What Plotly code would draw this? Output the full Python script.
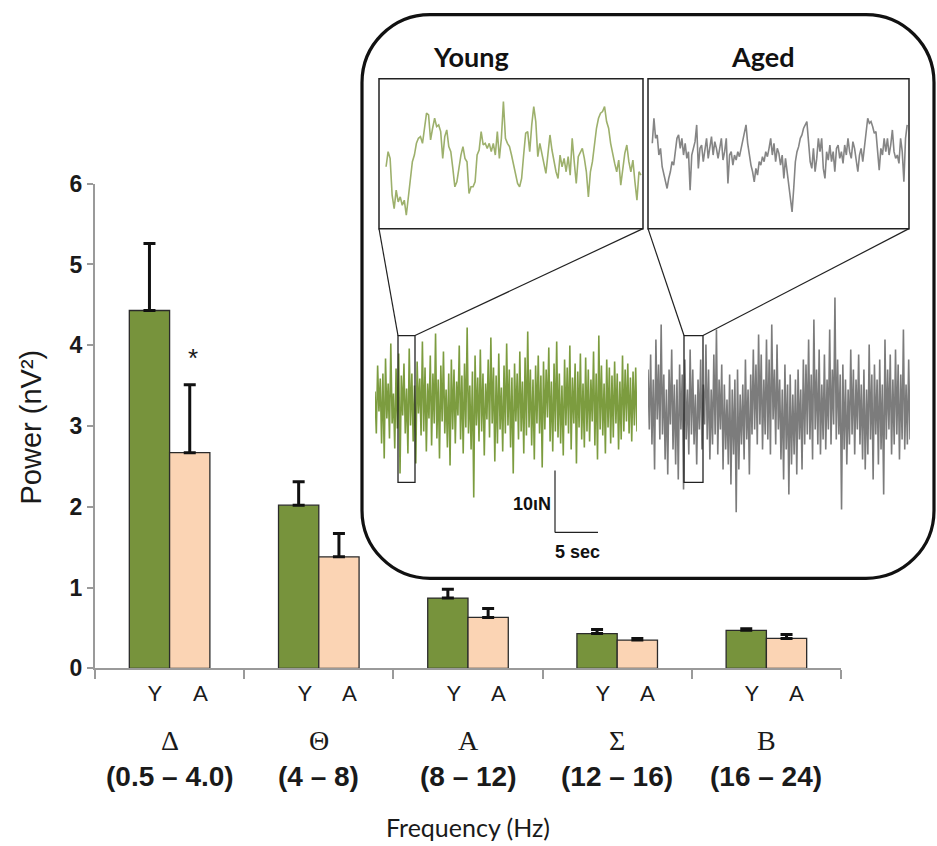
import plotly.graph_objects as go

W, H = 937, 846
# the photographed page maps figure rows as: shown_y = 12.2 + 0.970 * figure_y
Y_OFF, Y_SCALE = 12.2, 0.970

def px(x):
    return x / W

def py(y):
    return 1 - ((y - Y_OFF) / Y_SCALE) / H

# ---------------- data ----------------
bands = ["Δ", "Θ", "Α", "Σ", "Β"]
band_ranges = ["(0.5 – 4.0)", "(4 – 8)", "(8 – 12)", "(12 – 16)", "(16 – 24)"]
group_labels = ["Y", "A"]
young_power = [4.43, 2.02, 0.87, 0.43, 0.47]
young_sem = [0.83, 0.29, 0.11, 0.05, 0.02]
aged_power = [2.67, 1.38, 0.63, 0.35, 0.37]
aged_sem = [0.84, 0.29, 0.11, 0.02, 0.05]
y_ticks = [0, 1, 2, 3, 4, 5, 6]

# expanded (zoomed) EEG segments, arbitrary amplitude units
young_zoom = [195, 240, 220, 110, 70, 125, 90, 105, 80, 95, 50, 100, 160, 210, 230, 265, 280, 285, 265, 315,
              355, 350, 275, 310, 340, 315, 320, 300, 220, 285, 305, 255, 240, 190, 135, 150, 195, 230, 255, 220,
              210, 115, 135, 135, 150, 230, 245, 300, 260, 265, 250, 265, 240, 265, 230, 300, 220, 280, 390, 280,
              265, 255, 230, 200, 180, 145, 135, 160, 230, 295, 300, 240, 320, 375, 330, 225, 265, 230, 205, 175,
              230, 290, 245, 210, 180, 160, 230, 195, 220, 180, 225, 170, 280, 210, 145, 225, 240, 250, 220, 180,
              105, 180, 210, 260, 310, 340, 355, 360, 375, 330, 310, 265, 230, 205, 180, 215, 140, 180, 235, 260,
              210, 180, 215, 150, 95, 180, 170]
aged_zoom = [265, 340, 280, 290, 230, 250, 195, 170, 150, 130, 160, 180, 210, 200, 240, 280, 290, 250, 280, 230,
             265, 220, 240, 125, 230, 250, 270, 320, 190, 250, 260, 210, 240, 280, 220, 250, 285, 230, 270, 250,
             220, 250, 280, 215, 240, 280, 145, 230, 240, 200, 230, 215, 240, 225, 250, 270, 290, 320, 265, 230,
             200, 180, 150, 190, 170, 210, 200, 225, 210, 240, 225, 250, 280, 230, 265, 210, 250, 235, 200, 230,
             160, 220, 180, 150, 110, 60, 130, 210, 240, 255, 280, 290, 310, 320, 330, 270, 210, 190, 250, 180,
             220, 280, 240, 280, 190, 160, 240, 215, 260, 210, 240, 180, 250, 260, 220, 240, 205, 260, 230, 280,
             240, 220, 270, 250, 220, 180, 230, 250, 210, 260, 300, 340, 325, 330, 315, 295, 300, 240, 185, 250,
             230, 280, 240, 280, 230, 260, 305, 240, 220, 230, 205, 280, 240, 150, 280, 320]

# full-length EEG traces (offset from baseline, arbitrary units)
young_full = [12, -30, 38, -8, 25, -40, 30, -55, 45, -15, 20, -35, 60, -20, 10, -45, 35, -25, 50, -70,
              28, -12, 40, -30, 15, -50, 55, -22, 30, -38, 18, -60, 42, -10, 25, -32, 62, -28, 36, -48,
              20, -15, 48, -42, 30, -20, 70, -35, 24, -55, 38, -18, 52, -30, 14, -44, 30, -62, 44, -26,
              34, -40, 22, -12, 58, -36, 28, -50, 40, -24, 76, -30, 18, -46, 32, -94, 48, -22, 26, -38,
              54, -28, 30, -52, 20, -16, 44, -34, 66, -20, 36, -58, 28, -40, 50, -26, 16, -48, 38, -30,
              60, -22, 34, -44, 26, -70, 40, -18, 30, -36, 52, -28, 22, -50, 46, -32, 72, -24, 34, -42,
              24, -56, 38, -20, 48, -30, 28, -64, 42, -26, 34, -14, 56, -38, 22, -48, 40, -28, 62, -34,
              30, -40, 18, -52, 44, -22, 36, -30, 58, -46, 26, -20, 40, -60, 32, -24, 50, -36, 20, -44,
              46, -28, 34, -38, 24, -18, 52, -42, 30, -56, 68, -26, 38, -32, 20, -50, 44, -24, 36, -40,
              28, -34, 42, -20, 30, -46, 22, -36, 48, -28, 34, -18, 40, -30, 26, -38, 32, -22, 36, -28]
aged_full = [40, -20, 55, -35, 30, -60, 70, -10, 45, -30, 85, -25, 35, -50, 20, -65, 40, -15, 60, -40,
             25, -55, 30, -70, 45, -20, 35, -80, 50, -30, 20, -45, 60, -25, 40, -35, 15, -55, 30, -20,
             50, -40, 25, -15, 65, -30, 40, -50, 20, -35, 55, -25, 80, -45, 30, -20, 45, -60, 25, -40,
             10, -55, 35, -75, 20, -45, 30, -103, 40, -60, 15, -35, 25, -50, 50, -30, 20, -65, 35, -25,
             60, -20, 45, -35, 75, -15, 55, -40, 30, -25, 70, -30, 50, -45, 85, -10, 40, -35, 65, -20,
             30, -50, 20, -70, 45, -40, 25, -85, 35, -55, 15, -45, 30, -65, 40, -30, 20, -60, 50, -35,
             45, -25, 70, -30, 35, -50, 90, -20, 40, -35, 60, -45, 25, -30, 55, -40, 30, -20, 80, -35,
             40, -15, 112, -30, 50, -25, 35, -100, 45, -40, 30, -55, 20, -35, 60, -25, 40, -45, 30, -20,
             55, -35, 25, -50, 40, -60, 20, -45, 65, -30, 35, -70, 45, -25, 30, -55, 50, -40, 25, -85,
             70, -30, 40, -20, 55, -45, 30, -35, 60, -25, 45, -50, 35, -30, 80, -40, 25, -35, 50, -30]

GREEN = "#77933C"
PEACH = "#FBD4B4"
AXIS_GRAY = "#9a9a9a"

xs = list(range(len(bands)))

fig = go.Figure()
fig.add_trace(go.Bar(
    x=xs, y=young_power, name="Young",
    marker=dict(color=GREEN, line=dict(color="#2b2b2b", width=1.3)),
    error_y=dict(type="data", array=young_sem, arrayminus=[0] * 5, symmetric=False,
                 thickness=3, width=6, color="#111111"),
))
fig.add_trace(go.Bar(
    x=xs, y=aged_power, name="Aged",
    marker=dict(color=PEACH, line=dict(color="#2b2b2b", width=1.3)),
    error_y=dict(type="data", array=aged_sem, arrayminus=[0] * 5, symmetric=False,
                 thickness=3, width=6, color="#111111"),
))

# inset traces
fig.add_trace(go.Scatter(x=list(range(len(young_zoom))), y=young_zoom, mode="lines",
                         line=dict(color="#9db06c", width=1.6), xaxis="x2", yaxis="y2"))
fig.add_trace(go.Scatter(x=list(range(len(aged_zoom))), y=aged_zoom, mode="lines",
                         line=dict(color="#858585", width=1.6), xaxis="x3", yaxis="y3"))
fig.add_trace(go.Scatter(x=list(range(len(young_full))), y=young_full, mode="lines",
                         line=dict(color="#7c9c3f", width=1.6), xaxis="x4", yaxis="y4"))
fig.add_trace(go.Scatter(x=list(range(len(aged_full))), y=aged_full, mode="lines",
                         line=dict(color="#7c7c7c", width=1.6), xaxis="x5", yaxis="y5"))

hidden = dict(visible=False, fixedrange=True)

fig.update_layout(
    width=W, height=H,
    margin=dict(l=0, r=0, t=0, b=0),
    paper_bgcolor="white", plot_bgcolor="white",
    showlegend=False, hovermode=False,
    barmode="group", bargap=0.46, bargroupgap=0,
    xaxis=dict(domain=[px(95), px(841)], range=[-0.5, 4.5],
               tickmode="array", tickvals=[-0.5, 0.5, 1.5, 2.5, 3.5, 4.5],
               showticklabels=False, ticks="outside", ticklen=9, tickwidth=2, tickcolor=AXIS_GRAY,
               showline=True, linecolor=AXIS_GRAY, linewidth=2, showgrid=False, zeroline=False,
               fixedrange=True),
    yaxis=dict(domain=[py(668), py(183)], range=[0, 6],
               tickmode="array", tickvals=y_ticks, ticktext=[str(v) for v in y_ticks],
               ticks="outside", ticklen=6, tickwidth=2, tickcolor=AXIS_GRAY,
               tickfont=dict(family="Liberation Sans, Arial", size=23, color="#1a1a1a", weight="bold"),
               showline=True, linecolor=AXIS_GRAY, linewidth=2, showgrid=False, zeroline=False,
               fixedrange=True),
    xaxis2=dict(domain=[px(380), px(642)], range=[-3, len(young_zoom) - 0.5], anchor="y2", **hidden),
    yaxis2=dict(domain=[py(228), py(79)], range=[10, 455], anchor="x2", **hidden),
    xaxis3=dict(domain=[px(649), px(908)], range=[-2, len(aged_zoom) - 0.5], anchor="y3", **hidden),
    yaxis3=dict(domain=[py(228), py(79)], range=[10, 455], anchor="x3", **hidden),
    xaxis4=dict(domain=[px(375), px(637)], range=[0, len(young_full) - 1], anchor="y4", **hidden),
    yaxis4=dict(domain=[py(510), py(290)], range=[-107, 113], anchor="x4", **hidden),
    xaxis5=dict(domain=[px(648), px(910)], range=[0, len(aged_full) - 1], anchor="y5", **hidden),
    yaxis5=dict(domain=[py(512), py(292)], range=[-103, 117], anchor="x5", **hidden),
)

# ---------------- shapes ----------------
shapes = []

def rounded_path(x0, y0, x1, y1, r):
    k = 0.5523
    rx, ry = r / W, r / (H * Y_SCALE)
    X0, X1 = px(x0), px(x1)
    YT, YB = py(y0), py(y1)
    p = f"M {X0 + rx},{YT} L {X1 - rx},{YT} "
    p += f"C {X1 - rx * (1 - k)},{YT} {X1},{YT - ry * (1 - k)} {X1},{YT - ry} "
    p += f"L {X1},{YB + ry} "
    p += f"C {X1},{YB + ry * (1 - k)} {X1 - rx * (1 - k)},{YB} {X1 - rx},{YB} "
    p += f"L {X0 + rx},{YB} "
    p += f"C {X0 + rx * (1 - k)},{YB} {X0},{YB + ry * (1 - k)} {X0},{YB + ry} "
    p += f"L {X0},{YT - ry} "
    p += f"C {X0},{YT - ry * (1 - k)} {X0 + rx * (1 - k)},{YT} {X0 + rx},{YT} Z"
    return p

shapes.append(dict(type="path", xref="paper", yref="paper", path=rounded_path(362, 13.8, 934, 578, 68),
                   line=dict(color="#111111", width=3.2)))

def rect(x0, y0, x1, y1, w=1.5):
    return dict(type="rect", xref="paper", yref="paper", x0=px(x0), x1=px(x1), y0=py(y1), y1=py(y0),
                line=dict(color="#222222", width=w))

def seg(x0, y0, x1, y1, w=1.2):
    return dict(type="line", xref="paper", yref="paper", x0=px(x0), x1=px(x1), y0=py(y0), y1=py(y1),
                line=dict(color="#222222", width=w))

shapes += [rect(379, 78, 643, 228), rect(648, 78, 909, 228),
           rect(398, 335, 415, 482, 1.3), rect(684, 335, 703, 482, 1.3),
           seg(379, 228, 398, 335), seg(643, 228, 415, 335),
           seg(648, 228, 684, 335), seg(909, 228, 703, 335),
           seg(555, 470, 555, 532), seg(555, 532, 598, 532)]
fig.update_layout(shapes=shapes)

# ---------------- annotations ----------------
ann = []

def note(x, y, text, font, xref="paper", yref="paper", **kw):
    d = dict(x=x, y=y, xref=xref, yref=yref, text=text, showarrow=False, font=font,
             xanchor=kw.pop("xanchor", "center"), yanchor=kw.pop("yanchor", "middle"))
    d.update(kw)
    ann.append(d)

half = 0.135
for i in xs:
    note(i - half + 0.04, py(692), group_labels[0], dict(family="Lato, Open Sans", size=22, color="#1a1a1a"),
         xref="x")
    note(i + half + 0.07, py(692), group_labels[1], dict(family="Lato, Open Sans", size=22, color="#1a1a1a"),
         xref="x")
    note(i, py(740), bands[i], dict(family="Liberation Serif, DejaVu Serif", size=28, color="#1a1a1a"),
         xref="x")
    note(i, py(776), band_ranges[i],
         dict(family="Liberation Sans, Arial", size=28, color="#1a1a1a", weight="bold"), xref="x")

note(px(468), py(827), "Frequency (Hz)", dict(family="Lato, Open Sans", size=25, color="#1a1a1a"))
note(px(31), py(427), "Power (nV²)", dict(family="Liberation Sans, Arial", size=29, color="#1a1a1a"),
     textangle=-90)
note(half + 0.02, py(357), "*", dict(family="Liberation Sans, Arial", size=26, color="#1a1a1a"), xref="x")
note(px(471), py(56), "Young", dict(family="Lato, Open Sans", size=27, color="#111111", weight="bold"))
note(px(763), py(56), "Aged", dict(family="Lato, Open Sans", size=27, color="#111111", weight="bold"))
note(px(553), py(504), "10ιN", dict(family="Liberation Sans, Arial", size=18, color="#111111", weight="bold"),
     xanchor="right")
note(px(553), py(552), "5 sec", dict(family="Liberation Sans, Arial", size=18, color="#111111", weight="bold"),
     xanchor="left")
fig.update_layout(annotations=ann)

page_fix = ("document.documentElement.style.margin='0';document.body.style.margin='0';"
            "document.body.style.padding='0';document.documentElement.style.overflow='hidden';"
            "document.body.style.overflow='hidden';"
            "var gd=document.getElementById('{plot_id}');"
            "gd.style.position='fixed';gd.style.top='0px';gd.style.left='0px';")
fig.write_html("out.html", post_script=page_fix, config={"displayModeBar": False, "staticPlot": True})
